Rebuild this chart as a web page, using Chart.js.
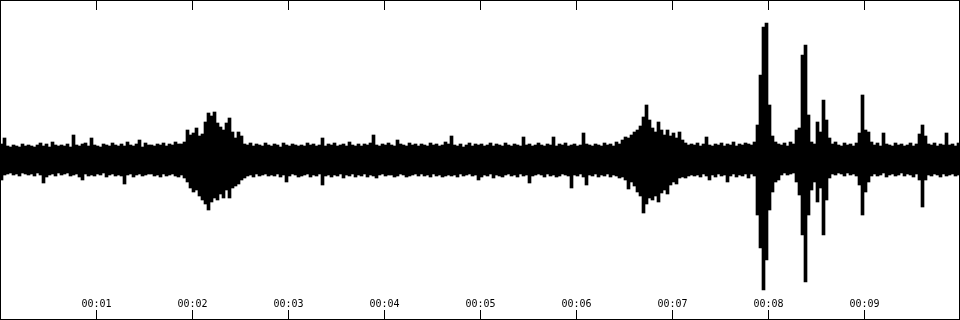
<!DOCTYPE html>
<html>
<head>
<meta charset="utf-8">
<script src="https://cdn.jsdelivr.net/npm/chart.js@4/dist/chart.umd.min.js"></script>
<style>
  html, body { margin: 0; padding: 0; background: #fff; }
  #wrap { width: 960px; height: 320px; position: relative; }
</style>
</head>
<body>
<div id="wrap"><canvas id="wave"></canvas></div>
<script>
// peak envelope of the waveform, one value per 3px column (10 s over 320 columns)
const upperPeaks = [
  16, 22, 14, 13, 15, 14, 13, 16, 14, 15,
  14, 13, 15, 17, 14, 16, 13, 18, 15, 14,
  15, 14, 16, 13, 25, 15, 14, 16, 17, 14,
  22, 15, 14, 13, 16, 15, 14, 17, 15, 14,
  16, 14, 18, 15, 14, 16, 20, 13, 17, 15,
  15, 14, 16, 15, 17, 14, 16, 15, 18, 16,
  16, 18, 30, 25, 27, 32, 24, 26, 38, 47,
  44, 48, 37, 33, 30, 37, 42, 28, 22, 28,
  24, 16, 15, 17, 14, 16, 15, 14, 17, 15,
  14, 16, 15, 13, 17, 15, 14, 16, 15, 14,
  15, 14, 17, 15, 16, 14, 15, 22, 14, 16,
  15, 17, 14, 15, 16, 14, 18, 15, 14, 16,
  14, 16, 15, 17, 25, 15, 14, 16, 15, 17,
  15, 14, 20, 16, 15, 14, 17, 15, 16, 14,
  16, 15, 14, 17, 15, 16, 14, 15, 18, 16,
  24, 15, 14, 16, 13, 15, 17, 14, 16, 15,
  16, 14, 15, 17, 14, 16, 15, 14, 17, 15,
  14, 16, 15, 14, 23, 15, 16, 14, 15, 17,
  15, 14, 16, 15, 23, 14, 16, 15, 17, 14,
  15, 16, 14, 15, 27, 16, 15, 14, 16, 15,
  14, 17, 15, 16, 14, 18, 16, 20, 23, 22,
  25, 28, 30, 34, 43, 55, 40, 32, 28, 38,
  30, 25, 30, 24, 27, 22, 28, 20, 17, 15,
  16, 15, 17, 14, 16, 23, 15, 14, 16, 15,
  17, 14, 16, 15, 18, 14, 16, 15, 17, 16,
  15, 18, 35, 85, 133, 137, 55, 24, 18, 16,
  15, 17, 14, 18, 16, 30, 32, 105, 115, 45,
  18, 16, 38, 28, 60, 40, 22, 16, 18, 15,
  14, 17, 15, 16, 14, 17, 27, 65, 30, 28,
  18, 15, 17, 14, 27, 16, 15, 14, 17, 15,
  16, 14, 15, 17, 14, 16, 26, 35, 24, 16,
  15, 17, 14, 16, 15, 27, 15, 16, 14, 17
];
const lowerPeaks = [
  -20, -15, -14, -13, -15, -14, -16, -13, -14, -15,
  -14, -16, -13, -15, -23, -17, -15, -14, -16, -13,
  -15, -14, -13, -16, -15, -14, -17, -20, -14, -16,
  -15, -16, -14, -15, -13, -17, -15, -14, -16, -15,
  -16, -24, -15, -14, -17, -15, -14, -16, -15, -14,
  -14, -16, -15, -17, -14, -16, -15, -14, -16, -17,
  -15, -18, -22, -28, -32, -30, -36, -40, -44, -50,
  -42, -38, -40, -34, -38, -30, -38, -28, -26, -24,
  -20, -18, -16, -15, -17, -14, -16, -15, -14, -16,
  -15, -16, -14, -17, -15, -22, -16, -14, -15, -17,
  -16, -15, -14, -17, -15, -16, -14, -25, -16, -15,
  -17, -15, -16, -14, -18, -15, -16, -14, -17, -15,
  -16, -14, -17, -15, -16, -18, -15, -14, -16, -15,
  -15, -17, -16, -14, -15, -17, -16, -15, -14, -16,
  -14, -16, -15, -17, -14, -16, -15, -17, -16, -15,
  -16, -15, -17, -14, -16, -15, -14, -16, -15, -20,
  -17, -15, -16, -14, -18, -15, -16, -17, -15, -14,
  -16, -15, -17, -14, -16, -15, -23, -16, -15, -14,
  -15, -17, -14, -16, -15, -17, -16, -14, -15, -16,
  -28, -15, -16, -14, -17, -25, -15, -16, -14, -17,
  -15, -16, -14, -17, -15, -16, -18, -17, -20, -29,
  -22, -26, -32, -36, -53, -44, -38, -40, -36, -42,
  -33, -30, -34, -25, -22, -24, -18, -17, -18, -16,
  -15, -16, -15, -17, -14, -16, -20, -15, -17, -14,
  -16, -15, -22, -16, -14, -17, -15, -16, -14, -18,
  -14, -16, -55, -88, -130, -100, -50, -32, -22, -20,
  -15, -13, -15, -14, -13, -22, -35, -75, -122, -55,
  -30, -22, -42, -28, -75, -40, -18, -14, -15, -13,
  -14, -16, -13, -15, -14, -16, -25, -55, -32, -22,
  -16, -14, -16, -15, -13, -17, -15, -14, -16, -15,
  -13, -16, -14, -15, -17, -14, -20, -47, -20, -15,
  -16, -14, -15, -17, -14, -16, -15, -14, -16, -15
];
const clipSeconds = 10;
const tickSeconds = [1, 2, 3, 4, 5, 6, 7, 8, 9];
const tickLabels = ['00:01', '00:02', '00:03', '00:04', '00:05', '00:06', '00:07', '00:08', '00:09'];

const columns = upperPeaks.map((_, i) => i);

// frame, inward time ticks and labels, placed with the time scale
const timeFrame = {
  id: 'timeFrame',
  afterDraw(chart) {
    const ctx = chart.ctx;
    const area = chart.chartArea;
    const time = chart.scales.time;
    ctx.save();
    ctx.strokeStyle = '#000';
    ctx.lineWidth = 1;
    ctx.strokeRect(area.left + 0.5, area.top + 0.5, area.width - 1, area.height - 1);
    ctx.beginPath();
    tickSeconds.forEach(s => {
      const x = Math.floor(time.getPixelForValue(s)) + 0.5;
      ctx.moveTo(x, area.top);
      ctx.lineTo(x, area.top + 10);
      ctx.moveTo(x, area.bottom - 10);
      ctx.lineTo(x, area.bottom);
    });
    ctx.stroke();
    ctx.fillStyle = '#000';
    ctx.font = '10px "DejaVu Sans Mono", monospace';
    ctx.textAlign = 'center';
    ctx.textBaseline = 'alphabetic';
    tickSeconds.forEach((s, i) => {
      const x = Math.floor(time.getPixelForValue(s)) + 0.5;
      ctx.fillText(tickLabels[i], x, area.bottom - 13);
    });
    ctx.restore();
  }
};

new Chart(document.getElementById('wave'), {
  type: 'bar',
  data: {
    labels: columns,
    datasets: [{
      data: upperPeaks.map((u, i) => [lowerPeaks[i], u]),
      backgroundColor: '#000',
      borderWidth: 0,
      barPercentage: 1,
      categoryPercentage: 1
    }]
  },
  options: {
    responsive: true,
    maintainAspectRatio: false,
    animation: false,
    layout: { padding: 0 },
    plugins: { legend: { display: false }, tooltip: { enabled: false } },
    scales: {
      x: { display: false },
      time: { type: 'linear', axis: 'x', offset: false, min: 0, max: clipSeconds, display: false },
      y: { min: -160, max: 160, display: false }
    }
  },
  plugins: [timeFrame]
});
</script>
</body>
</html>
